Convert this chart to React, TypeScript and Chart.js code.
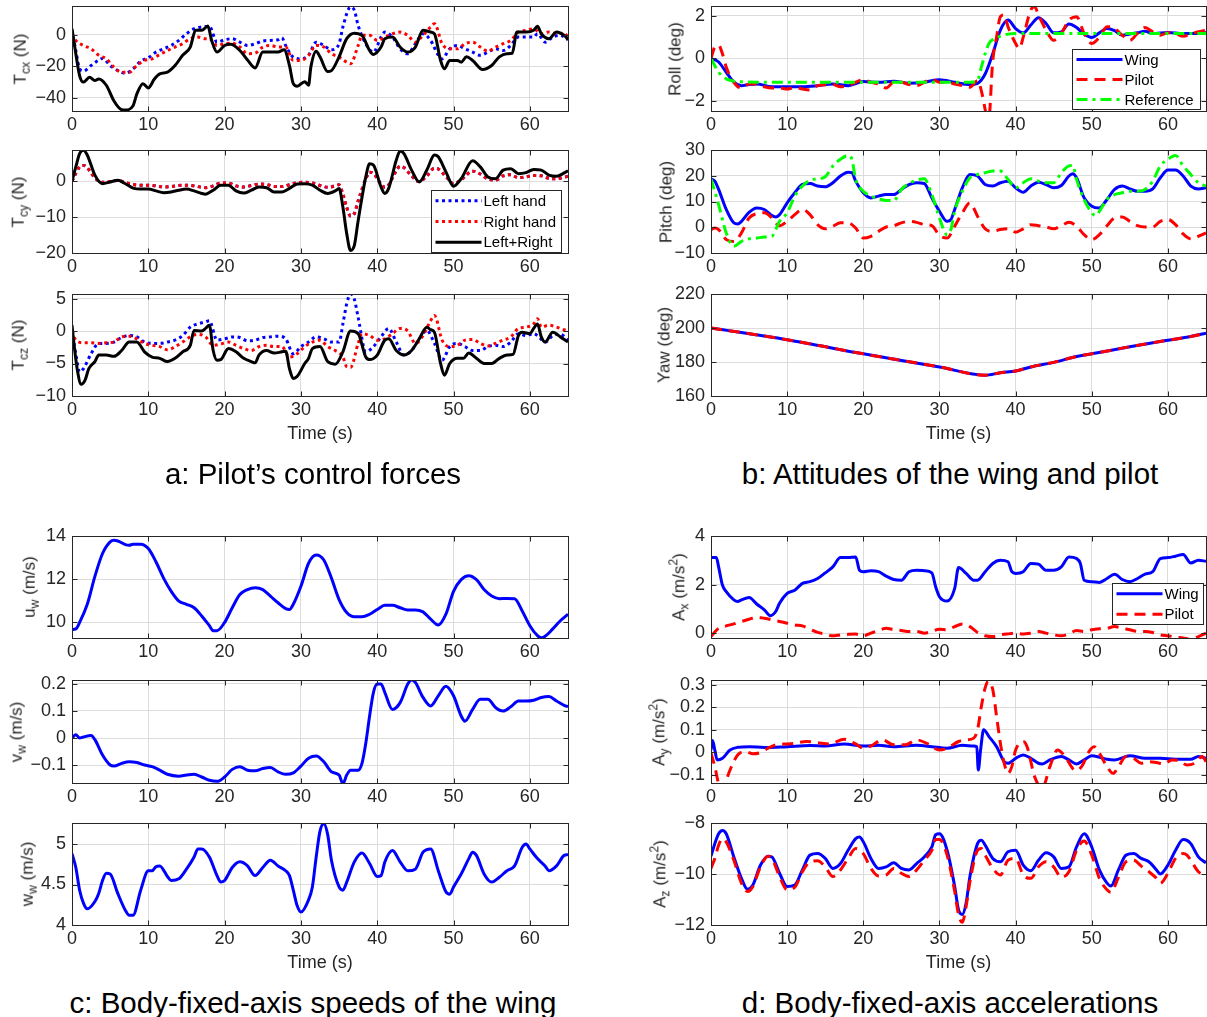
import React, { useEffect, useRef } from "react";
import { Chart, registerables } from "chart.js";

Chart.register(...registerables);

type Pt = [number, number];

const TIME_TICKS = [0, 10, 20, 30, 40, 50, 60];
const TIME_MAX = 65;

// ---------- a: pilot's control forces (N) ----------
const tcxLeft: Pt[] = [[0,2.8],[0.5,-10],[1,-21.6],[1.5,-23],[2.5,-19.5],[3.5,-16],[4,-15],[5,-19.5],[6,-22.7],[7,-24.4],[8,-21.6],[9,-16.7],[10,-14.6],[11,-11],[12,-8.9],[13,-6.8],[14,-3.6],[15,0.6],[16,3.8],[17,4.9],[18,5.3],[19,-4.7],[20,-3.2],[21,-2.5],[22,-4.7],[23,-6.8],[24,-5.7],[25,-4],[26,-3.6],[27,-3.2],[27.5,-1.9],[28,-6.8],[29,-14.2],[30,-15.3],[31,-13],[32,-4.7],[33,-6.8],[34,-9.5],[35,-5.7],[35.5,4.9],[36.5,17.6],[37,15.5],[37.5,5.9],[38.5,-5.7],[39.5,-11],[40.5,-1.5],[41,1.7],[42,-1.5],[43,-8.9],[44,-12],[45,-5.7],[46,0.6],[47,-3.6],[48,-13],[48.5,-15.3],[49.5,-8.9],[50.5,-6.8],[51.5,-8.9],[52.5,-11],[53.5,-13],[54.5,-11],[55.5,-8.9],[56.5,-10],[57.5,-6.8],[58.5,-1.5],[59.5,-1.5],[60.5,-1.5],[61,0.6],[62,-4.7],[63,-1.5],[64,-0.4],[65,-3.2]];
const tcxRight: Pt[] = [[0,0.6],[0.5,-3.6],[1.5,-6.8],[2.5,-8.9],[3.5,-13],[4.5,-15.3],[5.5,-20.5],[6.5,-23.7],[7.5,-23.7],[8.5,-19.5],[9.5,-16.3],[10.5,-15.3],[11.5,-12.5],[12.5,-10],[13.5,-7.8],[14.5,-5.7],[15.5,-2.5],[16.5,-1.5],[17.5,-2.5],[18,-2.5],[19,-6.8],[20,-5.7],[21,-5.3],[22,-7.8],[23,-12],[24,-11.6],[25,-7.8],[26,-6.8],[27,-7.8],[28,-7.8],[29,-16.3],[30,-16.3],[31,-13],[32,-6.8],[33,-7.8],[34,-12],[35,-14.2],[36,-17.4],[36.5,-18.4],[37.5,-6.8],[38,-0.4],[39,-0.4],[40,-3.6],[41,-1.5],[42,0.6],[43,1.7],[44,-0.4],[45,-4.7],[46,-0.4],[47,4.9],[47.5,7],[48.5,-5.7],[49.5,-8.9],[50.5,-8.9],[51.5,-5.7],[52.5,-4.7],[53.5,-7.8],[54.5,-10.4],[55.5,-7.8],[56.5,-5.7],[57.5,-3.6],[58.5,1.7],[59.5,2.8],[60.5,3.8],[61.5,0.6],[62.5,1.7],[63.5,0.6],[64.5,1],[65,-1.5]];
const tcxSum: Pt[] = [[0,3.8],[0.5,-12],[1,-26],[1.5,-30],[2.3,-27],[3,-29],[3.5,-28],[4.5,-32],[5.5,-42],[6.5,-47.5],[7,-47.7],[8,-45],[8.5,-37.5],[9.3,-31],[10,-33.7],[10.8,-28],[11.5,-24.8],[12.5,-23.7],[13.5,-19.5],[14.5,-13],[15.5,-7.8],[16.2,2.8],[17,2.8],[17.8,5.5],[18.3,-3.6],[19,-11],[20,-6.8],[20.8,-6.1],[22,-10],[23,-16],[24,-21],[25,-11],[26,-11],[27,-11],[27.8,-9.5],[28.5,-19.5],[29,-31],[29.5,-32.6],[30.5,-29.7],[31,-32],[31.3,-20.5],[32,-10.4],[32.5,-14],[33.5,-23.3],[34,-22.7],[35,-14],[36,-2.5],[37,1],[38,-0.4],[39,-10],[39.5,-12.5],[40.5,-7.8],[41,-2.5],[42,-1.5],[43,-7.8],[44,-11],[45,-7.8],[46,2.8],[47,1.7],[47.5,0.6],[48.3,-16.3],[48.8,-21.6],[49.5,-16.3],[50.5,-16.3],[51,-17.4],[51.7,-14],[52.5,-16.3],[53.8,-22],[55,-19.5],[56,-14],[57,-12],[57.7,-11.7],[58.3,1.7],[59.5,1.7],[60.5,2.8],[61,5.3],[61.5,0.6],[62.5,-2.5],[63.5,1.7],[64.5,-0.4],[65,-3]];

const tcyLeft: Pt[] = [[0,0],[0.5,2.2],[1,4],[1.5,4.4],[2,3.8],[2.5,2.3],[3,0.9],[4,-0.3],[5,-0.1],[6,0.2],[7,-0.4],[8,-0.9],[9,-1.1],[10,-1.1],[11,-1.3],[12,-1.6],[13,-1.5],[14,-1.2],[15,-1.1],[16,-1.3],[17,-1.7],[17.5,-1.8],[18.5,-1.3],[19.5,-0.5],[20.5,-0.5],[21.5,-1.3],[22.5,-1.6],[23.5,-1.2],[24.5,-0.8],[25.5,-0.9],[26.5,-1.5],[27.5,-1.5],[28.5,-1],[29.5,-0.4],[30.5,-0.3],[31.5,-0.5],[32.5,-1.2],[33.5,-1.7],[34.5,-1.3],[35,-1],[35.5,-3.6],[36,-7.3],[36.5,-9.7],[37,-9],[37.5,-5.5],[38.5,0.6],[39,2.5],[39.5,2.2],[40.5,-0.8],[41,-1.7],[41.5,-1],[42.5,3],[43,4.2],[43.5,3.8],[44.5,1.5],[45.5,-0.1],[46.5,1.5],[47.5,3.6],[48,3.4],[49,1.3],[50,-0.7],[51,0.4],[52.5,2.8],[53.5,2],[54.5,0.6],[55.5,0.3],[56.5,1.5],[57.5,1.8],[58.5,1],[59.5,1.2],[60.5,1.6],[61.5,1.5],[62.5,0.8],[63.5,0.7],[64.5,1.1],[65,1.4]];
const tcyRight: Pt[] = [[0,0],[0.5,2.2],[1,4],[1.5,4.4],[2,3.8],[2.5,2.3],[3,0.9],[4,-0.3],[5,-0.1],[6,0.2],[7,-0.4],[8,-0.9],[9,-1.1],[10,-1.1],[11,-1.3],[12,-1.6],[13,-1.5],[14,-1.2],[15,-1.1],[16,-1.3],[17,-1.7],[17.5,-1.8],[18.5,-1.3],[19.5,-0.5],[20.5,-0.5],[21.5,-1.3],[22.5,-1.6],[23.5,-1.2],[24.5,-0.8],[25.5,-0.9],[26.5,-1.5],[27.5,-1.5],[28.5,-1],[29.5,-0.4],[30.5,-0.3],[31.5,-0.5],[32.5,-1.2],[33.5,-1.7],[34.5,-1.3],[35,-1],[35.5,-3.6],[36,-7.3],[36.5,-9.7],[37,-9],[37.5,-5.5],[38.5,0.6],[39,2.5],[39.5,2.2],[40.5,-0.8],[41,-1.7],[41.5,-1],[42.5,3],[43,4.2],[43.5,3.8],[44.5,1.5],[45.5,-0.1],[46.5,1.5],[47.5,3.6],[48,3.4],[49,1.3],[50,-0.7],[51,0.4],[52.5,2.8],[53.5,2],[54.5,0.6],[55.5,0.3],[56.5,1.5],[57.5,1.8],[58.5,1],[59.5,1.2],[60.5,1.6],[61.5,1.5],[62.5,0.8],[63.5,0.7],[64.5,1.1],[65,1.4]];
const tcySum: Pt[] = [[0,0],[0.5,4],[1,7.7],[1.5,8.6],[2,7.3],[2.5,4.5],[3,1.7],[4,-0.7],[5,-0.2],[6,0.3],[7,-0.7],[8,-1.9],[9,-2.2],[10,-2.2],[11,-2.7],[12,-3.2],[13,-3],[14,-2.5],[15,-2.2],[16,-2.7],[17,-3.4],[17.5,-3.6],[18.5,-2.5],[19.5,-1.1],[20.5,-1.1],[21.5,-2.7],[22.5,-3.3],[23.5,-2.5],[24.5,-1.6],[25.5,-1.8],[26.5,-3],[27.5,-3],[28.5,-2],[29.5,-0.8],[30.5,-0.7],[31.5,-1.1],[32.5,-2.5],[33.5,-3.4],[34.5,-2.7],[35,-2],[35.5,-7.2],[36,-14.6],[36.5,-19.3],[37,-17.9],[37.5,-11],[38.5,1.2],[39,4.9],[39.5,4.5],[40.5,-1.6],[41,-3.4],[41.5,-2],[42.5,5.9],[43,8.4],[43.5,7.7],[44.5,3.1],[45.5,-0.2],[46.5,3.1],[47.5,7.3],[48,6.8],[49,2.6],[50,-1.4],[51,0.7],[52.5,5.7],[53.5,4],[54.5,1.2],[55.5,0.7],[56.5,3.1],[57.5,3.5],[58.5,2.1],[59.5,2.4],[60.5,3.3],[61.5,3.1],[62.5,1.7],[63.5,1.4],[64.5,2.3],[65,2.9]];

const tczLeft: Pt[] = [[0,0.1],[0.5,-3.5],[1,-6.3],[1.5,-5.8],[2.5,-3.5],[3.5,-1.9],[4.5,-1.9],[5.5,-1.7],[6.5,-1],[7.5,-0.7],[8.5,-0.9],[9.5,-1.7],[10.5,-1.9],[11.5,-1.9],[12.5,-1.7],[13.5,-1.4],[14.5,-0.7],[15.5,0.6],[16.5,1.1],[17.5,1.4],[18,1.6],[19,-1.4],[20,-1.2],[21,-0.9],[22,-1],[23,-1.5],[24,-1.4],[25,-1],[26,-0.9],[27,-0.8],[28,-1.2],[29,-3.5],[30,-2.4],[31,-1.7],[32,-0.9],[33,-1.2],[34,-1.7],[35,-1.7],[35.5,1.1],[36,4.2],[36.5,5.7],[37,4.9],[37.5,2.1],[38.5,-3.2],[39.5,-2.4],[40.5,-0.9],[41.5,0.4],[42.5,-1.7],[43.5,-3.7],[44.5,-3],[45.5,-1.2],[46.5,0.1],[47.5,-1.9],[48.5,-4.5],[49.5,-2.4],[50.5,-1.9],[51.5,-2.4],[52.5,-3],[53.5,-3],[54.5,-2.4],[55.5,-2.2],[56.5,-2.4],[57.5,-1.7],[58.5,-0.4],[59.5,-0.7],[60.5,-0.4],[61,-0.7],[62,-1.7],[63,-0.7],[64,-0.5],[65,-1.4]];
const tczRight: Pt[] = [[0,0],[0.5,-1.4],[1.5,-1.8],[2.5,-1.8],[3.5,-1.9],[4.5,-1.8],[5.5,-1.7],[6.5,-0.9],[7.5,-0.8],[8.5,-1.2],[9.5,-1.9],[10.5,-2.2],[11.5,-2.4],[12.5,-2.9],[13.5,-2.4],[14.5,-1.7],[15.5,-0.9],[16.5,-0.5],[17.5,-0.9],[18.5,-2.2],[19.5,-2],[20.5,-1.7],[21.5,-2.2],[22.5,-2.7],[23.5,-3],[24.5,-2.4],[25.5,-2.2],[26.5,-2.4],[27.5,-2.4],[28.5,-4],[29.5,-3.5],[30.5,-2.4],[31.5,-1.7],[32.5,-1.4],[33.5,-2.4],[34.5,-3],[35.5,-4],[36,-5.5],[36.5,-5.6],[37.5,-1.9],[38,-0.4],[39,-0.7],[40,-1.4],[41,-1.2],[42,-0.4],[43,0.4],[44,0],[45,-1.9],[46,-0.7],[47,1.6],[47.5,2.4],[48.5,-1.4],[49.5,-2.4],[50.5,-2.2],[51.5,-1.4],[52.5,-1.3],[53.5,-1.9],[54.5,-2.3],[55.5,-1.9],[56.5,-1.4],[57.5,-0.9],[58.5,0.4],[59.5,0.6],[60.5,1.1],[61,1.9],[61.5,0.6],[62.5,0.9],[63.5,0.6],[64.5,0.2],[65,0.1]];
const tczSum: Pt[] = [[0,0.9],[0.3,-2.4],[0.7,-6],[1.2,-8.2],[1.7,-7.6],[2.2,-5.8],[3,-4.7],[3.5,-3.7],[4.5,-3.7],[5.5,-3.9],[6.5,-3],[7.5,-1.7],[8.5,-1.7],[9.5,-3.2],[10.5,-4],[11.5,-4.2],[12.5,-4.7],[13.5,-4.2],[14.5,-3.2],[15.5,-2.2],[16,0.1],[17,0],[17.5,0.4],[18,0.9],[18.5,-3],[19,-4.5],[19.5,-4.4],[20.5,-2.7],[21.5,-3.2],[22.5,-4.2],[23.5,-4.7],[24,-4.9],[24.5,-3.7],[25.5,-3],[26.5,-3.4],[27.5,-3.2],[28,-3.1],[28.5,-5.8],[29,-7.3],[29.5,-7],[30.5,-5],[31,-4.2],[31.5,-2.7],[32.5,-2.4],[33.5,-4.7],[34.5,-5.1],[35.5,-3.2],[36.5,0],[37.5,-0.4],[38.5,-4],[39,-4.4],[40,-3.7],[41,-1.4],[41.5,-1.2],[42.5,-3],[43.5,-3.7],[44.5,-3],[45.5,-1.2],[46.5,0.6],[47,0.2],[47.5,-0.2],[48.3,-5],[48.8,-6.8],[49.5,-5],[50.5,-4.2],[51.3,-4.2],[52,-3.4],[53,-4.2],[54,-5],[55,-5],[56,-4.2],[57,-3.7],[57.8,-3.6],[58.5,-0.7],[59,-0.2],[60,-0.4],[60.5,0.4],[61,1.1],[61.5,-0.9],[62,-1.7],[63,-0.2],[64,-0.9],[65,-1.7]];

// ---------- b: attitudes of the wing and pilot (deg) ----------
const rollWing: Pt[] = [[0,0],[1,-0.17],[2,-0.65],[3,-1.12],[4,-1.28],[5,-1.23],[6,-1.2],[8,-1.33],[10,-1.33],[12,-1.33],[14,-1.28],[16,-1.2],[18,-1.28],[20,-1.09],[22,-1.12],[24,-1.07],[26,-1.17],[28,-1.12],[30,-1.0],[32,-1.12],[34,-1.23],[35,-1.17],[36,-0.73],[37,0.22],[38,1.33],[39,1.8],[40,1.4],[41,1.2],[42,1.57],[43,1.91],[44,1.64],[45,1.2],[46,1.25],[47,1.61],[48,1.45],[49,1.14],[50,0.98],[51,1.2],[52,1.4],[53,1.3],[54,1.09],[55,1.14],[56,1.2],[57,1.28],[58,1.17],[60,1.22],[62,1.17],[64,1.17],[65,1.22]];
const rollPilot: Pt[] = [[0,0],[0.5,0.54],[1,0.62],[1.5,0.22],[2,-0.41],[3,-1.12],[4,-1.39],[5,-1.2],[6,-1.2],[7,-1.33],[8,-1.39],[9,-1.39],[10,-1.44],[11,-1.36],[12,-1.44],[13,-1.49],[14,-1.28],[16,-1.23],[17,-1.33],[18,-1.28],[19,-1.12],[20,-1.0],[21,-1.12],[22,-1.2],[23,-1.39],[24,-1.12],[25,-1.12],[26,-1.23],[27,-1.28],[28,-1.12],[29,-0.98],[30,-1.12],[31,-1.12],[32,-1.2],[33,-1.28],[34,-1.36],[35,-1.04],[35.5,-1.52],[36,-2.4],[36.4,-3.2],[37,-0.1],[37.5,1.0],[38,1.96],[38.5,2.04],[39,1.49],[40,0.7],[40.5,0.46],[41,1.0],[42,2.28],[42.5,2.43],[43,2.04],[44,1.33],[45,0.85],[46,1.17],[47,1.8],[48,1.96],[49,1.17],[50,0.7],[51,1.0],[52,1.49],[53,1.41],[54,1.09],[55,0.85],[56,1.17],[57,1.45],[58,1.25],[59,1.09],[60,1.2],[61,1.17],[62,1.04],[63,1.14],[64,1.25],[65,1.33]];
const rollRef: Pt[] = [[0,0],[1,-0.65],[2,-0.96],[3,-1.07],[4,-1.1],[10,-1.12],[20,-1.12],[30,-1.12],[34,-1.12],[35,-1.04],[35.5,-0.41],[36,0.22],[36.5,0.7],[37,0.89],[38,1.04],[39,1.14],[40,1.17],[50,1.17],[65,1.17]];

const pitchWing: Pt[] = [[0,18.8],[0.5,17.9],[1,14.7],[2,6.9],[3,1.7],[3.5,1.3],[4,2.3],[5,5.8],[6,7.5],[7,6.9],[8,4.5],[8.5,4],[9,4.9],[10,9.5],[11,13.4],[12,16.6],[13,17],[14,16],[15,15.7],[16,17.3],[17,19.9],[18,21.4],[18.5,21.2],[19,17.9],[20,13.4],[21,11.4],[22,12.1],[23,12.7],[24,12.7],[25,14.7],[26,16.6],[27,17.3],[28,17],[29,11.4],[30,6.2],[31,2.3],[31.5,3],[32,6.9],[33,15.3],[34,20.5],[35,19.9],[36,16.6],[37,16],[38,17.3],[39,17.9],[40,15.3],[41,13.6],[42,16],[43,17.5],[44,16.6],[45,15.3],[46,16.2],[47,19.9],[47.5,20.8],[48,19.2],[49,11.4],[50,8.2],[51,7.5],[52,10.8],[53,14.7],[54,16],[55,14.9],[56,14],[57,14],[58,14.9],[59,19.2],[60,22.2],[61,22.2],[62,19.9],[63,16],[64,14.9],[65,15.3]];
const pitchPilot: Pt[] = [[0,-0.9],[0.5,-0.3],[1,-0.9],[2,-4.8],[3,-5.5],[4,-2.2],[5,3.6],[6,5.3],[7,5.6],[8,3.6],[9,0.6],[10,2.3],[11,4.9],[12,6.9],[13,4.9],[14,1],[15,-0.6],[16,0.4],[17,1.7],[18,1.7],[19,-0.3],[20,-4.2],[21,-3.5],[22,-1.6],[23,0.1],[24,0.6],[25,1.7],[26,2.3],[27,1.9],[28,1],[29,0.6],[30,-3.2],[31,-4.2],[32,0.4],[33,5.6],[34,9.5],[35,4.3],[36,-0.6],[37,-1.6],[38,-0.9],[39,-0.6],[40,-1.9],[41,-0.6],[42,1],[43,0.6],[44,0.1],[45,-0.6],[46,0.6],[47,1.9],[48,0.4],[49,-2.9],[50,-4.8],[51,-2.9],[52,0.6],[53,3.6],[54,4],[55,2.3],[56,0.6],[57,0.1],[58,0.1],[59,2.3],[60,3],[61,1],[62,-2.6],[63,-4.5],[64,-3.5],[65,-2.2]];
const pitchRef: Pt[] = [[0,18.8],[1,8.8],[2,-2.2],[3,-7.4],[4,-5.5],[5,-4.5],[6,-4.2],[7,-3.8],[8,-3.5],[8.5,-0.9],[9,2.3],[10,5.6],[11,12.1],[12,16],[13,18.3],[14,18.8],[15,19.6],[16,23.8],[17,26.4],[18,27.9],[18.5,26.4],[19,18.6],[20,14],[21,12.1],[22,11],[23,10.4],[24,10.4],[25,14.7],[26,17],[27,18.3],[28,18.8],[29,12.7],[30,3.6],[31,-2.9],[31.5,-0.9],[32,6.2],[33,14],[34,19.2],[35,20.5],[36,21.2],[37,21.8],[38,21.8],[39,18.6],[40,15.3],[41,17.3],[42,18.8],[43,17.9],[44,17.3],[45,17.3],[46,21.2],[47,23.8],[47.5,24],[48,18.6],[49,10.8],[50,5.6],[50.5,4.5],[51,6.2],[52,10.8],[53,12.7],[54,13.4],[55,14],[56,14],[57,14.7],[58,17.9],[59,23.8],[60,26.4],[61,27.9],[62,23.8],[63,20.5],[64,17.3],[65,16]];

const yawWing: Pt[] = [[0,200],[10,193.1],[20,184.8],[30,177.1],[36,172.2],[38,173.7],[40,174.7],[42,177.1],[45,179.8],[48,183.2],[50,184.8],[55,189],[60,192.8],[63,195],[65,197]];
const yawPilot: Pt[] = [[0,200],[10,193.1],[20,184.8],[30,177.1],[36,172.2],[38,173.7],[40,174.7],[42,177.1],[45,179.8],[48,183.2],[50,184.8],[55,189],[60,192.8],[63,195],[65,197]];

// ---------- c: body-fixed-axis speeds of the wing (m/s) ----------
const uWing: Pt[] = [[0,9.67],[0.5,9.7],[1,10],[2,10.84],[3,12.13],[4,13.19],[5,13.73],[5.5,13.8],[6,13.77],[7,13.6],[7.5,13.57],[8,13.62],[9,13.62],[10,13.42],[11,12.81],[12,12.05],[13,11.44],[14,10.99],[15,10.84],[16,10.68],[17,10.3],[18,9.85],[18.5,9.62],[19,9.62],[20,10],[21,10.68],[22,11.29],[23,11.52],[24,11.6],[25,11.52],[26,11.22],[27,10.91],[28,10.64],[28.5,10.6],[29,10.84],[30,11.67],[31,12.74],[32,13.12],[33,12.89],[34,12.05],[35,11.06],[36,10.46],[37,10.26],[38,10.26],[39,10.38],[40,10.6],[41,10.79],[42,10.79],[43,10.68],[44,10.58],[45,10.58],[46,10.49],[47,10.15],[48,9.88],[49,10.38],[50,11.44],[51,11.98],[52,12.16],[53,11.98],[54,11.52],[55,11.22],[56,11.1],[57,11.11],[58,11.1],[59,10.53],[60,9.85],[61,9.39],[61.5,9.29],[62,9.36],[63,9.7],[64,10.08],[65,10.38]];
const vWing: Pt[] = [[0,0],[0.5,0.012],[1,0],[1.5,0.004],[2.5,0.009],[3,-0.006],[4,-0.062],[5,-0.099],[5.5,-0.103],[6.5,-0.093],[7.5,-0.087],[8.5,-0.09],[9.5,-0.099],[10.5,-0.105],[11.5,-0.118],[12.5,-0.133],[14,-0.14],[15,-0.136],[16,-0.133],[17,-0.143],[18,-0.155],[19,-0.159],[20,-0.143],[21,-0.115],[22,-0.105],[23,-0.118],[24,-0.12],[25,-0.112],[26,-0.108],[27,-0.124],[28,-0.133],[29,-0.128],[30,-0.103],[31,-0.074],[32,-0.066],[33,-0.087],[34,-0.124],[35,-0.136],[35.5,-0.167],[36,-0.136],[36.5,-0.118],[37.5,-0.118],[38,-0.093],[38.5,-0.019],[39,0.081],[39.5,0.167],[40,0.198],[40.5,0.198],[41,0.167],[42,0.105],[43,0.13],[44,0.198],[44.5,0.214],[45,0.204],[46,0.149],[47,0.118],[48,0.155],[49,0.19],[50,0.155],[51,0.081],[51.5,0.062],[52.5,0.105],[53.5,0.142],[54.5,0.142],[55.5,0.112],[56.5,0.099],[57.5,0.115],[58.5,0.136],[59.5,0.136],[60.5,0.139],[61.5,0.149],[62.5,0.152],[63.5,0.136],[64.5,0.12],[65,0.115]];
const wWing: Pt[] = [[0,4.88],[0.5,4.71],[1,4.43],[1.5,4.27],[2,4.2],[3,4.29],[3.5,4.39],[4,4.55],[4.5,4.64],[5,4.63],[6,4.39],[7,4.18],[7.5,4.12],[8,4.12],[9,4.43],[10,4.67],[10.5,4.67],[11,4.72],[11.5,4.73],[12.5,4.6],[13,4.55],[14,4.57],[15,4.69],[16,4.84],[16.5,4.94],[17,4.94],[18,4.84],[19,4.61],[19.5,4.53],[20,4.55],[21,4.71],[22,4.78],[23,4.73],[24,4.61],[25,4.71],[26,4.8],[27,4.73],[28,4.67],[28.5,4.61],[29,4.43],[29.5,4.24],[30,4.16],[31,4.31],[31.5,4.47],[32,4.84],[32.5,5.16],[33,5.25],[33.5,5.12],[34,4.8],[35,4.47],[35.5,4.43],[36,4.53],[37,4.78],[38,4.89],[39,4.76],[40,4.6],[40.5,4.61],[41,4.78],[42,4.92],[43,4.78],[44,4.67],[45,4.69],[46,4.9],[47,4.94],[48,4.67],[49,4.41],[49.5,4.38],[50,4.47],[51,4.63],[52,4.82],[52.5,4.9],[53,4.86],[54,4.63],[55,4.53],[56,4.59],[57,4.67],[58,4.73],[59,4.96],[59.5,5],[60,4.94],[61,4.82],[62,4.73],[62.5,4.67],[63.5,4.73],[64.5,4.86],[65,4.87]];

// ---------- d: body-fixed-axis accelerations (m/s^2) ----------
const axWing: Pt[] = [[0,3.11],[0.7,3.11],[1,2.73],[1.5,1.98],[2,1.71],[3,1.37],[3.5,1.3],[4,1.37],[5,1.47],[6,1.2],[7,0.96],[7.8,0.72],[8.5,0.89],[9,1.23],[10,1.64],[11,1.77],[12,2.05],[13,2.12],[14,2.25],[15,2.48],[16,2.73],[17,3.11],[18,3.11],[19,3.14],[19.5,2.59],[20,2.53],[21,2.57],[22,2.53],[23,2.35],[24,2.21],[25,2.18],[26,2.53],[27,2.59],[28,2.57],[29,2.48],[29.5,1.91],[30,1.5],[31,1.32],[32,1.84],[32.5,2.7],[33.5,2.46],[34.5,2.18],[35,2.18],[36,2.53],[37,2.87],[38,3],[39,2.94],[39.5,2.53],[40,2.46],[41,2.53],[42,2.87],[43,2.84],[44,2.59],[45,2.59],[46,2.73],[47,3.14],[48,3.07],[48.5,2.87],[49,2.18],[50,2.12],[51,2.09],[52,2.25],[53,2.43],[54,2.21],[55,2.12],[56,2.25],[57,2.43],[58,2.53],[59,3.07],[60,3.11],[61,3.17],[62,3.24],[63,2.89],[64,3],[65,2.96]];
const axPilot: Pt[] = [[0,-0.14],[1,0.2],[2,0.3],[3,0.38],[4,0.48],[5,0.57],[6,0.66],[7,0.61],[8,0.55],[9,0.48],[10,0.41],[11,0.34],[12,0.3],[13,0.16],[14,0.03],[15,-0.04],[16,-0.11],[17,-0.07],[18,-0.05],[19,-0.04],[20,-0.11],[21,0],[22,0.11],[23,0.2],[24,0.14],[25,0.11],[26,0.07],[27,0.07],[28,0],[29,0.07],[30,0.16],[31,0.14],[32,0.27],[33,0.38],[34,0.27],[35,0.03],[36,-0.11],[37,-0.14],[38,-0.07],[39,-0.03],[40,0],[41,-0.04],[42,0],[43,0.07],[44,0],[45,-0.07],[46,-0.11],[47,-0.03],[48,0.11],[49,0.07],[50,0.14],[51,0.18],[52,0.2],[53,0.27],[54,0.2],[55,0.14],[56,0.07],[57,0.07],[58,0.03],[59,-0.07],[60,-0.11],[61,-0.16],[62,-0.2],[63,-0.25],[64,-0.14],[65,0]];

const ayWing: Pt[] = [[0,0.01],[0.2,0.052],[0.5,0.01],[0.8,-0.034],[1.5,-0.027],[2.5,0.01],[3.5,0.022],[5,0.025],[7,0.021],[10,0.025],[13,0.03],[15,0.028],[17.5,0.037],[20,0.028],[22,0.031],[24,0.025],[27,0.031],[29,0.025],[31,0.018],[33,0.031],[34.5,0.028],[34.9,0.025],[35.1,-0.079],[35.4,0.01],[35.8,0.1],[36.5,0.07],[37.5,0.025],[38.5,-0.042],[39,-0.049],[40,-0.027],[41,-0.012],[42,-0.027],[43,-0.049],[43.5,-0.052],[44.5,-0.034],[46,-0.019],[47,-0.034],[48,-0.052],[49,-0.034],[50,-0.016],[51,-0.022],[52,-0.031],[53,-0.034],[55,-0.016],[57,-0.027],[59,-0.027],[61,-0.031],[63,-0.031],[64,-0.019],[65,-0.027]];
const ayPilot: Pt[] = [[0,-0.004],[0.5,-0.064],[1,-0.14],[1.4,-0.17],[2,-0.124],[2.5,-0.079],[3.5,-0.012],[4.5,0.003],[5.5,-0.007],[6.5,-0.001],[7.5,0.018],[8.5,0.033],[10,0.037],[11,0.04],[12.5,0.048],[14,0.043],[15.5,0.037],[17.5,0.058],[19,0.037],[20,0.018],[21,0.028],[22.5,0.055],[24,0.033],[25.5,0.033],[27,0.055],[28.5,0.037],[30,0.01],[31,0.018],[32.5,0.048],[33.5,0.055],[34.5,0.063],[35,0.1],[35.5,0.204],[36,0.287],[36.4,0.316],[37,0.279],[37.5,0.16],[38,0.04],[38.5,-0.049],[39,-0.094],[39.5,-0.064],[40,0.01],[41,0.048],[41.5,0.025],[42.5,-0.109],[43.5,-0.16],[44.5,-0.064],[45.5,0.01],[46.5,-0.019],[47.5,-0.072],[48,-0.082],[48.8,-0.057],[49.5,-0.004],[50.3,0.025],[51,-0.004],[52,-0.064],[52.8,-0.094],[53.5,-0.064],[54.5,-0.019],[55.5,-0.027],[56.5,-0.049],[57.5,-0.042],[58.5,-0.046],[59.5,-0.052],[60.5,-0.034],[61.5,-0.037],[62.5,-0.057],[63.5,-0.049],[64.5,-0.019],[65,-0.042]];

const azWing: Pt[] = [[0,-9.3],[0.5,-8.81],[1,-8.42],[1.5,-8.29],[2,-8.42],[3,-9.33],[4,-10.17],[4.8,-10.6],[5.5,-10.43],[6.5,-9.65],[7.5,-9.3],[8,-9.33],[9,-9.97],[10,-10.49],[11,-10.43],[12,-9.84],[13,-9.26],[14,-9.2],[15,-9.39],[16,-9.78],[17,-9.59],[18,-9.07],[19,-8.61],[19.5,-8.55],[20,-8.74],[21,-9.39],[22,-9.78],[23,-9.72],[24,-9.56],[25,-9.78],[26,-9.84],[27,-9.59],[28,-9.33],[29,-8.94],[29.5,-8.46],[30,-8.42],[31,-9.07],[32,-10.49],[32.5,-11.4],[33,-11.59],[33.5,-11.14],[34,-10.1],[35,-8.81],[35.5,-8.68],[36,-8.87],[37,-9.39],[38,-9.52],[39,-9.13],[40,-9.07],[41,-9.65],[42,-9.87],[43,-9.46],[44,-9.17],[45,-9.33],[46,-9.78],[47,-9.72],[48,-8.94],[49,-8.42],[50,-8.94],[51,-9.84],[52,-10.36],[52.5,-10.47],[53.5,-9.84],[54.5,-9.26],[55.5,-9.2],[56.5,-9.39],[57.5,-9.52],[58.5,-9.84],[59,-10],[60,-9.65],[61,-9.07],[62,-8.65],[62.5,-8.68],[63,-8.81],[64,-9.33],[65,-9.56]];
const azPilot: Pt[] = [[0,-9.78],[0.5,-9.39],[1,-8.87],[1.5,-8.61],[2,-8.74],[3,-9.46],[4,-10.36],[4.8,-10.69],[5.5,-10.49],[6.5,-9.72],[7.5,-9.3],[8,-9.39],[9,-10.1],[10,-10.62],[11,-10.52],[12,-9.91],[13,-9.52],[14,-9.48],[15,-9.72],[16,-10.1],[17,-9.84],[18,-9.39],[19,-9],[20,-9.2],[21,-9.78],[22,-10.08],[23,-10.04],[24,-9.78],[25,-9.97],[26,-10.1],[27,-9.84],[28,-9.46],[29,-9.07],[29.5,-8.65],[30,-8.65],[31,-9.26],[32,-10.69],[32.5,-11.59],[33,-11.89],[33.5,-11.27],[34,-10.3],[35,-9.07],[35.5,-9],[36,-9.26],[37,-9.78],[38,-10.04],[39,-9.46],[40,-9.39],[41,-10.04],[42,-10.17],[43,-9.72],[44,-9.52],[45,-9.72],[46,-10.13],[47,-9.91],[48,-9.07],[49,-8.71],[50,-9.26],[51,-10.17],[52,-10.62],[52.5,-10.72],[53.5,-10.13],[54.5,-9.52],[55.5,-9.46],[56.5,-9.69],[57.5,-9.91],[58.5,-10.17],[59,-10.36],[60,-9.97],[61,-9.39],[62,-9.2],[62.5,-9.26],[63,-9.46],[64,-9.91],[65,-10.04]];

// ---------- styles ----------
const BLUE = "#0000ff";
const RED = "#ff0000";
const BLACK = "#000000";
const GREEN = "#00ff00";
const AXIS_COLOR = "#262626";
const GRID_COLOR = "#dcdcdc";
const FONT = '"Liberation Sans", Arial, Helvetica, sans-serif';

interface LineStyle { label: string; color: string; dash: number[]; }
const LEFT_HAND: LineStyle = { label: "Left hand", color: BLUE, dash: [3, 3.5] };
const RIGHT_HAND: LineStyle = { label: "Right hand", color: RED, dash: [3, 3.5] };
const BOTH_HANDS: LineStyle = { label: "Left+Right", color: BLACK, dash: [] };
const WING: LineStyle = { label: "Wing", color: BLUE, dash: [] };
const PILOT: LineStyle = { label: "Pilot", color: RED, dash: [11, 7] };
const REFERENCE: LineStyle = { label: "Reference", color: GREEN, dash: [11, 5, 3, 5] };

interface LegendBox { w: number; h: number; right: number; bottom: number; }
interface PlotSpec {
  rect: [number, number, number, number];
  yMin: number;
  yMax: number;
  yTicks: number[];
  series: { style: LineStyle; data: Pt[] }[];
  legend?: LegendBox;
  title: React.ReactNode;
  titleX: number;
}

const COL_A = 72, COL_B = 711, COL_W_A = 496, COL_W_B = 495;
const ROWS = [[6, 105], [150, 103], [294, 102], [536, 102], [680, 103], [823, 102]];

const sub = (s: string) => <sub style={{ fontSize: "0.72em" }}>{s}</sub>;
const sup = (s: string) => <sup style={{ fontSize: "0.72em" }}>{s}</sup>;

const PLOTS: PlotSpec[] = [
  { rect: [COL_A, ROWS[0][0], COL_W_A, ROWS[0][1]], yMin: -48.3, yMax: 18.2, yTicks: [-40, -20, 0],
    series: [{ style: LEFT_HAND, data: tcxLeft }, { style: RIGHT_HAND, data: tcxRight }, { style: BOTH_HANDS, data: tcxSum }],
    title: <>T{sub("cx")} (N)</>, titleX: 22 },
  { rect: [COL_A, ROWS[1][0], COL_W_A, ROWS[1][1]], yMin: -20, yMax: 8.7, yTicks: [-20, -10, 0],
    series: [{ style: LEFT_HAND, data: tcyLeft }, { style: RIGHT_HAND, data: tcyRight }, { style: BOTH_HANDS, data: tcySum }],
    legend: { w: 130, h: 62, right: 7, bottom: 1 },
    title: <>T{sub("cy")} (N)</>, titleX: 20 },
  { rect: [COL_A, ROWS[2][0], COL_W_A, ROWS[2][1]], yMin: -10, yMax: 5.7, yTicks: [-10, -5, 0, 5],
    series: [{ style: LEFT_HAND, data: tczLeft }, { style: RIGHT_HAND, data: tczRight }, { style: BOTH_HANDS, data: tczSum }],
    title: <>T{sub("cz")} (N)</>, titleX: 20 },
  { rect: [COL_B, ROWS[0][0], COL_W_B, ROWS[0][1]], yMin: -2.47, yMax: 2.46, yTicks: [-2, 0, 2],
    series: [{ style: WING, data: rollWing }, { style: PILOT, data: rollPilot }, { style: REFERENCE, data: rollRef }],
    legend: { w: 128, h: 60, right: 6, bottom: 2 },
    title: <>Roll (deg)</>, titleX: 675 },
  { rect: [COL_B, ROWS[1][0], COL_W_B, ROWS[1][1]], yMin: -10, yMax: 30, yTicks: [-10, 0, 10, 20, 30],
    series: [{ style: WING, data: pitchWing }, { style: PILOT, data: pitchPilot }, { style: REFERENCE, data: pitchRef }],
    title: <>Pitch (deg)</>, titleX: 666 },
  { rect: [COL_B, ROWS[2][0], COL_W_B, ROWS[2][1]], yMin: 160, yMax: 220, yTicks: [160, 180, 200, 220],
    series: [{ style: WING, data: yawWing }, { style: PILOT, data: yawPilot }],
    title: <>Yaw (deg)</>, titleX: 664 },
  { rect: [COL_A, ROWS[3][0], COL_W_A, ROWS[3][1]], yMin: 9.28, yMax: 14, yTicks: [10, 12, 14],
    series: [{ style: WING, data: uWing }],
    title: <>u{sub("w")} (m/s)</>, titleX: 31 },
  { rect: [COL_A, ROWS[4][0], COL_W_A, ROWS[4][1]], yMin: -0.165, yMax: 0.213, yTicks: [-0.1, 0, 0.1, 0.2],
    series: [{ style: WING, data: vWing }],
    title: <>v{sub("w")} (m/s)</>, titleX: 18 },
  { rect: [COL_A, ROWS[5][0], COL_W_A, ROWS[5][1]], yMin: 4, yMax: 5.26, yTicks: [4, 4.5, 5],
    series: [{ style: WING, data: wWing }],
    title: <>w{sub("w")} (m/s)</>, titleX: 29 },
  { rect: [COL_B, ROWS[3][0], COL_W_B, ROWS[3][1]], yMin: -0.2, yMax: 4, yTicks: [0, 2, 4],
    series: [{ style: WING, data: axWing }, { style: PILOT, data: axPilot }],
    legend: { w: 91, h: 41, right: 3, bottom: 14 },
    title: <>A{sub("x")} (m/s{sup("2")})</>, titleX: 679 },
  { rect: [COL_B, ROWS[4][0], COL_W_B, ROWS[4][1]], yMin: -0.137, yMax: 0.322, yTicks: [-0.1, 0, 0.1, 0.2, 0.3],
    series: [{ style: WING, data: ayWing }, { style: PILOT, data: ayPilot }],
    title: <>A{sub("y")} (m/s{sup("2")})</>, titleX: 659 },
  { rect: [COL_B, ROWS[5][0], COL_W_B, ROWS[5][1]], yMin: -12, yMax: -8, yTicks: [-12, -10, -8],
    series: [{ style: WING, data: azWing }, { style: PILOT, data: azPilot }],
    title: <>A{sub("z")} (m/s{sup("2")})</>, titleX: 660 },
];

// canvas margins around the plotting box (top margin covers the half-height
// of the top tick label plus its padding, so Chart.js adds nothing extra)
const ML = 64, MT = 22, MR = 12, MB = 34;
const TICK_FONT = { family: FONT, size: 18 };

const fmt = (v: number) => String(Math.round(v * 1000) / 1000).replace("-", "\u2212");

function makeFramePlugin(spec: PlotSpec) {
  return {
    id: "axesFrame",
    afterDatasetsDraw(chart: any) {
      const { ctx, chartArea: a, scales } = chart;
      ctx.save();
      ctx.strokeStyle = AXIS_COLOR;
      ctx.lineWidth = 1;
      const l = Math.round(a.left) + 0.5, t = Math.round(a.top) + 0.5;
      const r = Math.round(a.right) + 0.5, b = Math.round(a.bottom) + 0.5;
      ctx.beginPath();
      for (const v of TIME_TICKS) {
        const x = Math.round(scales.x.getPixelForValue(v)) + 0.5;
        ctx.moveTo(x, b); ctx.lineTo(x, b - 5);
        ctx.moveTo(x, t); ctx.lineTo(x, t + 5);
      }
      for (const v of spec.yTicks) {
        const y = Math.round(scales.y.getPixelForValue(v)) + 0.5;
        ctx.moveTo(l, y); ctx.lineTo(l + 5, y);
        ctx.moveTo(r, y); ctx.lineTo(r - 5, y);
      }
      ctx.stroke();
      ctx.strokeRect(l, t, r - l, b - t);

      if (spec.legend) {
        const lg = spec.legend;
        const x0 = Math.round(a.right - lg.right - lg.w) + 0.5;
        const y0 = Math.round(a.bottom - lg.bottom - lg.h) + 0.5;
        ctx.fillStyle = "#ffffff";
        ctx.fillRect(x0, y0, lg.w, lg.h);
        ctx.strokeStyle = AXIS_COLOR;
        ctx.lineWidth = 1;
        ctx.setLineDash([]);
        ctx.strokeRect(x0, y0, lg.w, lg.h);
        const n = spec.series.length;
        spec.series.forEach((s, i) => {
          const y = y0 + (lg.h / n) * (i + 0.5);
          ctx.beginPath();
          ctx.strokeStyle = s.style.color;
          ctx.lineWidth = 3;
          ctx.setLineDash(s.style.dash);
          ctx.moveTo(x0 + 4, y);
          ctx.lineTo(x0 + 50, y);
          ctx.stroke();
          ctx.setLineDash([]);
          ctx.fillStyle = "#000000";
          ctx.font = `15px ${FONT}`;
          ctx.textBaseline = "middle";
          ctx.textAlign = "left";
          ctx.fillText(s.style.label, x0 + 52, y + 1);
        });
      }
      ctx.restore();
    },
  };
}

function Plot({ spec }: { spec: PlotSpec }) {
  const ref = useRef<HTMLCanvasElement>(null);
  const [px, py, pw, ph] = spec.rect;
  const cw = pw + ML + MR, chh = ph + MT + MB;

  useEffect(() => {
    if (!ref.current) return;
    const n = spec.series.length;
    const chart = new Chart(ref.current, {
      type: "line",
      data: {
        datasets: spec.series.map((s, i) => ({
          label: s.style.label,
          data: s.data.map(([x, y]) => ({ x, y })),
          borderColor: s.style.color,
          borderWidth: 3,
          borderDash: s.style.dash,
          borderCapStyle: "butt",
          borderJoinStyle: "round",
          pointRadius: 0,
          fill: false,
          cubicInterpolationMode: "monotone",
          clip: 0,
          order: n - i,
        })),
      },
      options: {
        animation: false,
        responsive: false,
        events: [],
        layout: { padding: { top: MT, right: MR, left: 0, bottom: 0 } },
        plugins: { legend: { display: false }, tooltip: { enabled: false } },
        scales: {
          x: {
            type: "linear",
            min: 0,
            max: TIME_MAX,
            afterBuildTicks: (s: any) => { s.ticks = TIME_TICKS.map((v) => ({ value: v })); },
            afterFit: (s: any) => { s.height = MB; },
            grid: { color: GRID_COLOR, drawTicks: false, lineWidth: 1 },
            border: { display: false },
            ticks: { font: TICK_FONT, color: AXIS_COLOR, padding: 3, maxRotation: 0, autoSkip: false, callback: (v: any) => fmt(Number(v)) },
          },
          y: {
            type: "linear",
            min: spec.yMin,
            max: spec.yMax,
            afterBuildTicks: (s: any) => { s.ticks = spec.yTicks.map((v) => ({ value: v })); },
            afterFit: (s: any) => { s.width = ML; },
            grid: { color: GRID_COLOR, drawTicks: false, lineWidth: 1 },
            border: { display: false },
            ticks: { font: TICK_FONT, color: AXIS_COLOR, padding: 6, autoSkip: false, callback: (v: any) => fmt(Number(v)) },
          },
        },
      } as any,
      plugins: [makeFramePlugin(spec)],
    });
    return () => chart.destroy();
  }, [spec]);

  return (
    <>
      <canvas
        ref={ref}
        width={cw}
        height={chh}
        style={{ position: "absolute", left: px - ML, top: py - MT, width: cw, height: chh, display: "block" }}
      />
      <div
        style={{
          position: "absolute",
          left: spec.titleX,
          top: py + ph / 2,
          transform: "translate(-50%, -50%) rotate(-90deg)",
          whiteSpace: "nowrap",
          fontSize: 17,
          color: AXIS_COLOR,
          lineHeight: 1,
        }}
      >
        {spec.title}
      </div>
    </>
  );
}

const centered = (x: number, y: number, size: number, color: string): React.CSSProperties => ({
  position: "absolute",
  left: x,
  top: y,
  transform: "translate(-50%, -50%)",
  whiteSpace: "nowrap",
  fontSize: size,
  color,
  lineHeight: 1,
});

export default function App() {
  return (
    <div
      style={{
        position: "absolute",
        left: 0,
        top: 0,
        width: 1207,
        height: 1017,
        overflow: "hidden",
        background: "#ffffff",
        fontFamily: FONT,
      }}
    >
      {PLOTS.map((p, i) => (
        <Plot key={i} spec={p} />
      ))}
      <div style={centered(COL_A + COL_W_A / 2, 433, 18, AXIS_COLOR)}>Time (s)</div>
      <div style={centered(COL_B + COL_W_B / 2, 433, 18, AXIS_COLOR)}>Time (s)</div>
      <div style={centered(COL_A + COL_W_A / 2, 962, 18, AXIS_COLOR)}>Time (s)</div>
      <div style={centered(COL_B + COL_W_B / 2, 962, 18, AXIS_COLOR)}>Time (s)</div>
      <div style={centered(313, 474, 29.5, "#000000")}>a: Pilot’s control forces</div>
      <div style={centered(950, 474, 29.5, "#000000")}>b: Attitudes of the wing and pilot</div>
      <div style={centered(313, 1003, 29.5, "#000000")}>c: Body-fixed-axis speeds of the wing</div>
      <div style={centered(950, 1003, 29.5, "#000000")}>d: Body-fixed-axis accelerations</div>
    </div>
  );
}
